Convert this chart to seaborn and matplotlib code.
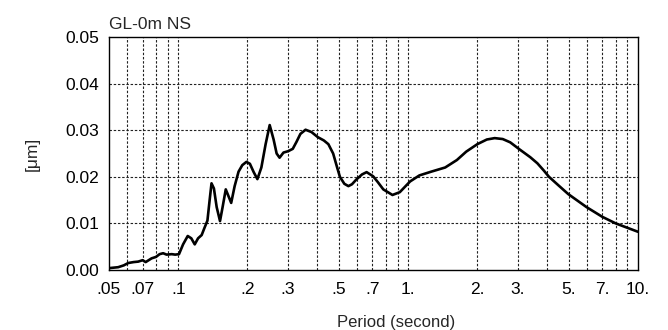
import numpy as np
import pandas as pd
import seaborn as sns
import matplotlib
matplotlib.use("Agg")
import matplotlib.pyplot as plt
from matplotlib import font_manager
from matplotlib.ticker import FixedLocator, FixedFormatter, NullLocator

# Spectrum: period [s] and amplitude [um]
period = [0.050, 0.0548, 0.058, 0.0606, 0.064, 0.067, 0.070, 0.0722, 0.0766, 0.080,
          0.083, 0.086, 0.089, 0.0937, 0.097, 0.1008, 0.105, 0.110, 0.114, 0.118,
          0.122, 0.1265, 0.130, 0.134, 0.137, 0.1396, 0.143, 0.147, 0.152, 0.156,
          0.161, 0.165, 0.170, 0.176, 0.183, 0.190, 0.198, 0.205, 0.213, 0.221,
          0.230, 0.240, 0.250, 0.260, 0.268, 0.276, 0.287, 0.301, 0.315, 0.327,
          0.340, 0.358, 0.380, 0.405, 0.430, 0.450, 0.472, 0.490, 0.505, 0.528,
          0.550, 0.570, 0.595, 0.630, 0.660, 0.705, 0.740, 0.780, 0.855, 0.920,
          1.02, 1.12, 1.26, 1.45, 1.63, 1.79, 2.00, 2.20, 2.38, 2.58,
          2.78, 3.05, 3.40, 3.65, 3.90, 4.10, 4.50, 4.97, 5.97, 7.0,
          8.0, 10.0]
amplitude = [0.0004, 0.0006, 0.0010, 0.0015, 0.0017, 0.0018, 0.0021, 0.0017, 0.0025, 0.0028,
             0.0034, 0.0036, 0.0033, 0.0034, 0.0033, 0.0034, 0.0055, 0.0073, 0.0068, 0.0055,
             0.0068, 0.0075, 0.0090, 0.0106, 0.0150, 0.0186, 0.0175, 0.0135, 0.0105, 0.0135,
             0.0173, 0.0160, 0.0144, 0.0180, 0.0211, 0.0225, 0.0232, 0.0228, 0.0210, 0.0195,
             0.0220, 0.0270, 0.0311, 0.0280, 0.0250, 0.0241, 0.0252, 0.0255, 0.0260, 0.0275,
             0.0292, 0.0301, 0.0296, 0.0285, 0.0278, 0.0270, 0.0250, 0.0222, 0.0200, 0.0185,
             0.0180, 0.0184, 0.0194, 0.0205, 0.0210, 0.0201, 0.0188, 0.0173, 0.0161, 0.0167,
             0.0190, 0.0203, 0.0211, 0.0220, 0.0236, 0.0254, 0.0270, 0.0280, 0.0283, 0.0281,
             0.0274, 0.0259, 0.0242, 0.0229, 0.0213, 0.0200, 0.0182, 0.0163, 0.0135, 0.0114,
             0.0100, 0.0082]

xtick_vals = [0.05, 0.07, 0.1, 0.2, 0.3, 0.5, 0.7, 1, 2, 3, 5, 7, 10]
xtick_labels = [".05", ".07", ".1", ".2", ".3", ".5", ".7", "1.", "2.", "3.", "5.", "7.", "10."]
grid_vals = [0.06, 0.07, 0.08, 0.09, 0.1, 0.2, 0.3, 0.4, 0.5, 0.6, 0.7, 0.8, 0.9,
             1, 2, 3, 4, 5, 6, 7, 8, 9]
ytick_vals = [0.00, 0.01, 0.02, 0.03, 0.04, 0.05]

sns.set_style("white")
names = {f.name for f in font_manager.fontManager.ttflist}
fam = "Liberation Sans Narrow" if "Liberation Sans Narrow" in names else "Liberation Sans"
plt.rcParams["font.family"] = [fam, "DejaVu Sans"]

df = pd.DataFrame({"period": period, "amp": amplitude})

fig = plt.figure(figsize=(6.68, 3.30), dpi=100)
ax = fig.add_axes([109 / 668, 60 / 330, 529 / 668, 233 / 330])

sns.lineplot(data=df, x="period", y="amp", ax=ax, color="black", linewidth=1.9)

ax.set_xscale("log")
ax.set_xlim(0.05, 10)
ax.set_ylim(0, 0.05)

ax.xaxis.set_major_locator(FixedLocator(xtick_vals))
ax.xaxis.set_major_formatter(FixedFormatter(xtick_labels))
ax.xaxis.set_minor_locator(NullLocator())
ax.set_yticks(ytick_vals)
ax.set_yticklabels([f"{v:.2f}" for v in ytick_vals])

for g in grid_vals:
    ax.axvline(g, color="#222222", linewidth=0.8, linestyle=(0, (2.2, 1.6)), zorder=0)
for g in ytick_vals[1:-1]:
    ax.axhline(g, color="#222222", linewidth=0.8, linestyle=(0, (2.2, 1.6)), zorder=0)

ax.tick_params(axis="both", length=0, labelsize=12.5, colors="black")
ax.tick_params(axis="x", pad=9)
ax.tick_params(axis="y", pad=7)

for s in ax.spines.values():
    s.set_color("black")
    s.set_linewidth(1.0)

ax.set_xlabel("Period (second)", fontsize=12, va="center")
ax.xaxis.set_label_coords(0.543, -0.225)
ax.set_ylabel("[\u03bcm]", fontsize=12.5)
ax.yaxis.set_label_coords(-0.13, 0.5)
ax.set_title("GL-0m NS", loc="left", fontsize=12.5, pad=6)

fig.savefig("out.png", dpi=100)
